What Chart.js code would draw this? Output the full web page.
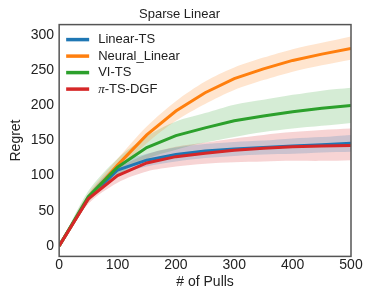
<!DOCTYPE html>
<html>
<head>
<meta charset="utf-8">
<script src="https://cdn.jsdelivr.net/npm/chart.js@4"></script>
<style>
  html, body { margin: 0; padding: 0; background: #fff; }
  #wrap { width: 374px; height: 299px; }
</style>
</head>
<body>
<div id="wrap"><canvas id="grafico"></canvas></div>
<script>
// datos
const pulls = [0, 50, 100, 150, 200, 250, 300, 350, 400, 450, 500];
const linearTS      = [0, 68, 108, 122, 130, 135, 138, 140, 142, 144, 146];
const linearTSLo    = [0, 64, 100, 113, 120, 125, 128, 130, 131, 133, 134];
const linearTSHi    = [0, 72, 116, 131, 140, 145, 148, 150, 153, 155, 158];
const neuralLinear  = [0, 68, 115, 158, 192, 218, 238, 252, 264, 273, 281];
const neuralLo      = [0, 62, 106, 146, 178, 202, 222, 236, 248, 257, 265];
const neuralHi      = [0, 74, 124, 170, 206, 234, 254, 268, 280, 289, 298];
const viTS          = [0, 70, 112, 140, 157, 168, 178, 185, 191, 196, 200];
const viTSLo        = [0, 62, 100, 124, 137, 147, 155, 162, 167, 171, 175];
const viTSHi        = [0, 78, 124, 156, 177, 189, 201, 208, 215, 221, 225];
const dgf           = [0, 67, 100, 118, 127, 132, 136, 139, 141, 142, 143];
const dgfLo         = [0, 60, 90, 106, 113, 117, 119, 120, 121, 121, 122];
const dgfHi         = [0, 74, 110, 130, 141, 147, 153, 158, 162, 165, 167];
const yTicks = [0, 50, 100, 150, 200, 250, 300];

const series = [
  { label: 'Linear-TS', data: linearTS, lo: linearTSLo, hi: linearTSHi, color: '#1f77b4', band: 'rgba(31,119,180,0.2)' },
  { label: 'Neural_Linear', data: neuralLinear, lo: neuralLo, hi: neuralHi, color: '#ff7f0e', band: 'rgba(255,127,14,0.2)' },
  { label: 'VI-TS', data: viTS, lo: viTSLo, hi: viTSHi, color: '#2ca02c', band: 'rgba(44,160,44,0.2)' },
  { label: '\u03c0-TS-DGF', data: dgf, lo: dgfLo, hi: dgfHi, color: '#d62728', band: 'rgba(214,39,40,0.2)' }
];

const pts = arr => arr.map((v, i) => ({ x: pulls[i], y: v }));

// lineas primero (se dibujan arriba), bandas despues
const datasets = [];
series.slice().reverse().forEach(s => {
  datasets.push({ label: s.label, data: pts(s.data), borderColor: s.color, borderWidth: 3,
    pointRadius: 0, fill: false, tension: 0 });
});
series.forEach(s => {
  const idx = datasets.length;
  datasets.push({ label: 'band', data: pts(s.lo), borderWidth: 0, pointRadius: 0, fill: false, tension: 0.3 });
  datasets.push({ label: 'band', data: pts(s.hi), borderWidth: 0, pointRadius: 0, backgroundColor: s.band,
    fill: { target: idx }, tension: 0.3 });
});

const fuente = '"Liberation Sans", Arial, sans-serif';

const marco = {
  id: 'marco',
  afterDraw(chart) {
    const { ctx, chartArea: a } = chart;
    ctx.save();
    ctx.strokeStyle = '#555';
    ctx.lineWidth = 1.5;
    ctx.strokeRect(a.left, a.top, a.right - a.left, a.bottom - a.top);
    // leyenda
    ctx.font = '13px ' + fuente;
    ctx.textBaseline = 'middle';
    series.forEach((s, i) => {
      const y = a.top + 15 + i * 16.5;
      ctx.strokeStyle = s.color;
      ctx.lineWidth = 3.5;
      ctx.beginPath();
      ctx.moveTo(a.left + 7, y);
      ctx.lineTo(a.left + 30, y);
      ctx.stroke();
      ctx.fillStyle = '#222';
      if (s.label.startsWith('\u03c0')) {
        ctx.font = 'italic 13px "Liberation Serif", serif';
        ctx.fillText('\u03c0', a.left + 39, y);
        const w = ctx.measureText('\u03c0').width;
        ctx.font = '13px ' + fuente;
        ctx.fillText(s.label.slice(1), a.left + 39 + w, y);
      } else {
        ctx.fillText(s.label, a.left + 39, y);
      }
    });
    ctx.restore();
  }
};

new Chart(document.getElementById('grafico').getContext('2d'), {
  type: 'line',
  data: { datasets },
  options: {
    responsive: true,
    maintainAspectRatio: false,
    animation: false,
    layout: { padding: { left: 8, right: 23, top: 0, bottom: 8 } },
    plugins: {
      legend: { display: false },
      tooltip: { enabled: false },
      title: { display: true, text: 'Sparse Linear', color: '#222',
        font: { size: 13, family: fuente, weight: 'normal' },
        padding: { top: 7, bottom: 2 } }
    },
    scales: {
      x: {
        type: 'linear', min: 0, max: 500,
        grid: { display: false, drawTicks: false },
        border: { display: false },
        ticks: { stepSize: 100, color: '#222', padding: 0,
          font: { size: 14, family: fuente } },
        title: { display: true, text: '# of Pulls', color: '#222', padding: { top: 1, bottom: 0 },
          font: { size: 14, family: fuente } }
      },
      y: {
        type: 'linear', min: -15, max: 315,
        afterBuildTicks: s => { s.ticks = yTicks.map(v => ({ value: v })); },
        grid: { display: false, drawTicks: false },
        border: { display: false },
        ticks: { color: '#222', padding: 5,
          font: { size: 14, family: fuente } },
        title: { display: true, text: 'Regret', color: '#222', padding: { top: 0, bottom: 1 },
          font: { size: 14, family: fuente } }
      }
    }
  },
  plugins: [marco]
});
</script>
</body>
</html>
